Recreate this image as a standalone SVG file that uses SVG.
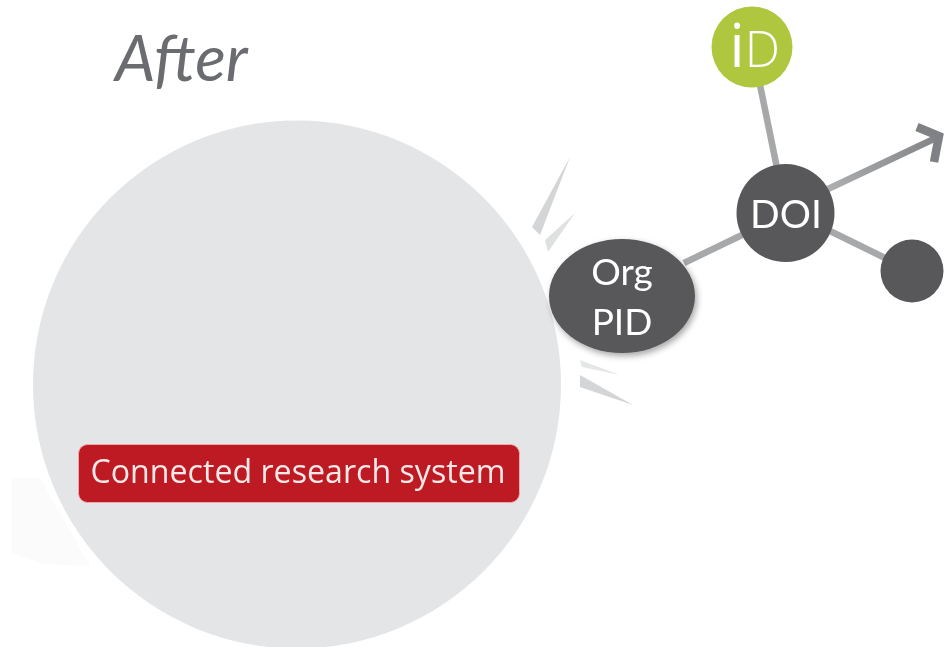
<svg xmlns="http://www.w3.org/2000/svg" width="951" height="647" viewBox="0 0 951 647">
<style>
.dark{fill:#58585a}
.node{font-family:Lato,"Open Sans","Liberation Sans",sans-serif;fill:#fff;text-anchor:middle;font-size:37px}
.link{stroke:#a7a8aa;stroke-width:6.5;fill:none}
.shard{fill:#d4d5d6}
</style>
<defs>
<filter id="sh" x="-20%" y="-20%" width="140%" height="140%"><feDropShadow dx="2" dy="3" stdDeviation="3" flood-color="#000" flood-opacity="0.35"/></filter>
<filter id="soft" x="-10%" y="-10%" width="120%" height="120%"><feGaussianBlur stdDeviation="0.6"/></filter>
<linearGradient id="shaft" gradientUnits="userSpaceOnUse" x1="828" y1="189" x2="944" y2="133"><stop offset="0" stop-color="#adaeb0"/><stop offset="1" stop-color="#808184"/></linearGradient>
</defs>
<rect width="951" height="647" fill="#fff"/>
<path d="M12 478H40L90 566L44 564L12 553Z" fill="#fbfbfb"/>
<g id="shards" filter="url(#soft)">
<polygon class="shard" points="570,157 532,227 540,235"/>
<polygon class="shard" points="575,213 545,240 548,252" opacity="0.75"/>
<polygon class="shard" points="580,360 620,375 582,367" opacity="0.6"/>
<polygon class="shard" points="580,375 633,405 580,387"/>
</g>
<g id="system">
<circle cx="297" cy="384.500" r="264" fill="#e4e5e7"/>
</g>
<g id="title">
<text x="115" y="81" font-family="Lato,'Open Sans',sans-serif" font-style="italic" font-weight="400" font-size="64" fill="#6a6c70">After</text>
</g>
<g id="connectors">
<line class="link" x1="760" y1="85" x2="777" y2="168"/>
<line x1="828" y1="189" x2="938" y2="137" stroke="url(#shaft)" stroke-width="6.500"/>
<path d="M917 127L939 136L934 162" fill="none" stroke="#808184" stroke-width="8.500"/>
<line class="link" x1="830" y1="231" x2="885" y2="258"/>
<line class="link" x1="684" y1="263" x2="742" y2="235"/>
</g>
<g id="label">
<rect x="78.500" y="444.500" width="441" height="58" rx="9" fill="#bd1a23" stroke="#f0a8a8" stroke-width="1"/>
<text x="298" y="483" font-family="'Open Sans','Liberation Sans',sans-serif" font-size="33" fill="#f8e8e8" text-anchor="middle" textLength="415" lengthAdjust="spacingAndGlyphs">Connected research system</text>
</g>
<g id="orcid">
<circle cx="752" cy="47" r="40.500" fill="#afc63f"/>
<text x="729.500" y="66.500" font-family="'Open Sans',sans-serif" font-weight="300" font-size="50" fill="#fff"><tspan font-size="60" font-weight="400">i</tspan>D</text>
</g>
<g id="org-pid">
<ellipse class="dark" cx="622" cy="296" rx="73" ry="57" filter="url(#sh)"/>
<text class="node" x="622" y="285">Org</text>
<text class="node" x="622" y="335">PID</text>
</g>
<g id="doi">
<circle class="dark" cx="785.500" cy="213" r="49"/>
<text class="node" x="786" y="228" font-size="39" style="font-size:39px">DOI</text>
</g>
<g id="dot">
<circle class="dark" cx="912" cy="271" r="31.500"/>
</g>
</svg>
